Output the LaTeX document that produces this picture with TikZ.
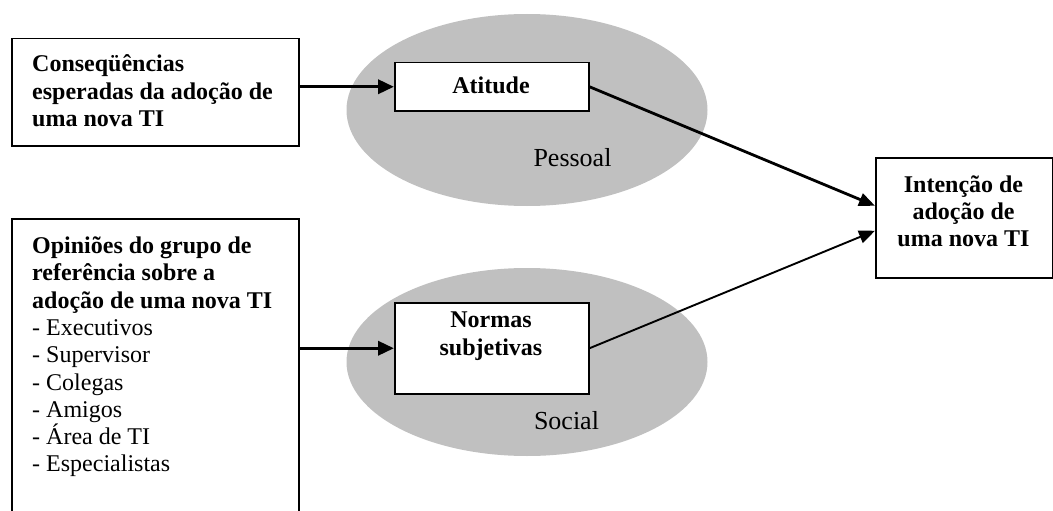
\documentclass[tikz,border=0pt]{standalone}
\usepackage{fontspec}
\setmainfont{Liberation Serif}
\usetikzlibrary{arrows.meta,shapes.geometric}
\definecolor{ovalgray}{RGB}{192,192,192}
\begin{document}
\begin{tikzpicture}[x=1pt,y=-1pt,
  boxshape/.style={draw=black,line width=1.5pt,fill=white,inner sep=0pt,anchor=north west},
  oval/.style={ellipse,fill=ovalgray,inner sep=0pt},
  bodytext/.style={font=\fontsize{24}{27.3}\selectfont,inner sep=0pt},
  headtext/.style={font=\fontsize{24}{27.3}\selectfont\bfseries,inner sep=0pt},
  labeltext/.style={font=\fontsize{26}{30}\selectfont,inner sep=0pt},
  thickarrow/.style={line width=3.5pt,-{Triangle[length=16pt,width=14pt]}},
  diagarrow/.style={-{Triangle[length=16pt,width=13pt]}},
]
\useasboundingbox (0,0) rectangle (1053,511);

% grey ovals
\node[oval,minimum width=361pt,minimum height=192pt] (pessoal) at (527,110) {};
\node[oval,minimum width=361pt,minimum height=188pt] (social) at (527,362) {};

% boxes
\node[boxshape,minimum width=287pt,minimum height=107pt] (conseq) at (11,38) {};
\node[boxshape,minimum width=287pt,minimum height=330pt] (opin) at (11,218) {};
\node[boxshape,minimum width=194pt,minimum height=48pt] (atitude) at (394,62) {};
\node[boxshape,minimum width=194pt,minimum height=91pt] (normas) at (394,302) {};
\node[boxshape,minimum width=177pt,minimum height=120pt] (intent) at (875,157) {};

% texts
\node[headtext,align=left,anchor=north west] (conseqtxt) at (32,52.4)
  {\strut Conseqüências\\esperadas da adoção de\\uma nova TI};
\node[bodytext,align=left,anchor=north west] (opintxt) at (32,234.2)
  {\strut\textbf{Opiniões do grupo de}\\\textbf{referência sobre a}\\\textbf{adoção de uma nova TI}\\- Executivos\\- Supervisor\\- Colegas\\- Amigos\\- Área de TI\\- Especialistas};
\node[headtext,anchor=base] (atitudetxt) at (491,94) {Atitude};
\node[headtext,align=center,anchor=north] (normastxt) at (491,308.5)
  {\strut Normas\\subjetivas};
\node[headtext,align=center,anchor=north] (intenttxt) at (963.5,172.9)
  {\strut Intenção de\\adoção de\\uma nova TI};
\node[labeltext,anchor=base] (pessoallbl) at (572.5,166.5) {Pessoal};
\node[labeltext,anchor=base] (sociallbl) at (566.5,429) {Social};

% connectors
\draw[thickarrow] (conseq.east |- atitude.west) -- (atitude.west);
\draw[thickarrow] (opin.east |- normas.west) -- (normas.west);
\draw[diagarrow,line width=2.8pt] (atitude.east) -- ([yshift=12pt]intent.west);
\draw[diagarrow,line width=1.9pt] (normas.east) -- ([yshift=-13pt]intent.west);
\end{tikzpicture}
\end{document}
